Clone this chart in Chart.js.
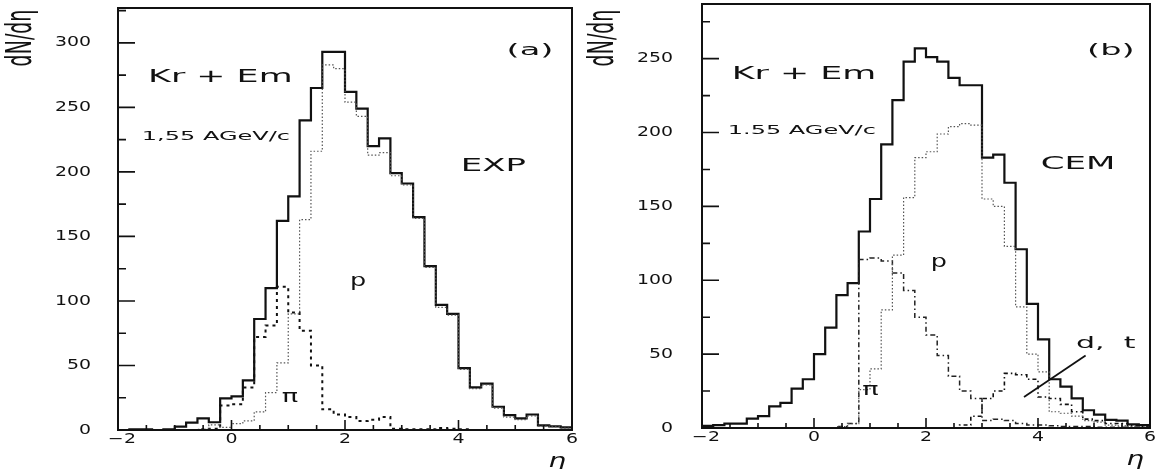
<!DOCTYPE html>
<html>
<head>
<meta charset="utf-8">
<script src="https://cdn.jsdelivr.net/npm/chart.js@4.4.1/dist/chart.umd.min.js"></script>
<style>
  html, body { margin: 0; padding: 0; background: #fff; }
  #wrap { position: relative; width: 1159px; height: 469px; overflow: hidden; }
  .panel { position: absolute; top: 0; height: 469px; }
</style>
</head>
<body>
<div id="wrap">
  <div class="panel" style="left:0; width:580px;"><canvas id="panel-a"></canvas></div>
  <div class="panel" style="left:580px; width:579px;"><canvas id="panel-b"></canvas></div>
</div>
<script>
// Kr+Em 1.55 AGeV/c — dN/dη, experiment (a) vs CEM (b).
// Bins of 0.2 in η; each value is the content of the bin starting at etaBins[i].

const etaBins = [-2.0, -1.8, -1.6, -1.4, -1.2, -1.0, -0.8, -0.6, -0.4, -0.2,
                 0.0, 0.2, 0.4, 0.6, 0.8, 1.0, 1.2, 1.4, 1.6, 1.8,
                 2.0, 2.2, 2.4, 2.6, 2.8, 3.0, 3.2, 3.4, 3.6, 3.8,
                 4.0, 4.2, 4.4, 4.6, 4.8, 5.0, 5.2, 5.4, 5.6, 5.8];
const etaEnd = 6.0;

// (a) EXP
const expTotal = [0, 0.5, 0.5, 0, 0.5, 2.6, 5.7, 9, 6, 24.5,
                  26, 38.5, 86, 110, 162, 181, 240, 265, 293, 293,
                  262, 249, 220, 226, 199, 191, 165, 127, 97, 90,
                  48, 33, 36, 18, 11.5, 9, 12, 3.6, 2.8, 2];
const expProton = [0, 0, 0, 0, 0, 0, 0, 0.5, 4, 2,
                   5, 7, 14, 29, 52, 90, 163, 216, 283, 280,
                   254, 243, 213, 215, 197, 190, 164, 126, 95, 89,
                   47, 32, 35, 17, 10, 8, 11, 3, 2.5, 1.5];
const expPion = [0, 0, 0, 0, 0, 0, 0, 0.5, 1, 19,
                 20, 33, 72, 81, 111, 91, 77, 50, 16, 12,
                 10, 7, 8, 10, 1, 0.5, 0.5, 0.5, 1.5, 1,
                 0.5, 0, 0, 0, 0, 0, 0, 0, 0, 0];

// (b) CEM
const cemTotal = [1.5, 2, 3, 3, 6.3, 8, 14.7, 17, 26.6, 33,
                  50, 68, 90, 98, 133, 155, 192, 222, 248, 257,
                  251, 248, 237, 232, 232, 183, 185, 166, 121, 84,
                  60, 33, 28, 20, 12, 9, 5.5, 5, 2.5, 2];
const cemProton = [0, 0, 0, 0, 0, 0, 0, 0, 0, 0,
                   0, 0, 1, 3, 26, 40, 80, 117, 156, 183,
                   187, 199, 204, 206, 205, 155, 150, 123, 82, 50,
                   38, 11, 10, 8, 5, 4, 2, 1.5, 1, 0.5];
const cemPion = [0, 0, 0, 0, 0, 0, 0, 0, 0, 0,
                 0, 0, 1, 3, 114, 115, 113, 105, 93, 75,
                 63, 49, 35, 25, 20, 5, 6, 5, 3, 2,
                 2, 1.5, 1, 1, 1, 0.5, 0.5, 0.5, 0.5, 0.5];
const cemDeutTrit = [0, 0, 0, 0, 0, 0, 0, 0, 0, 0,
                     0, 0, 0, 0, 0, 0, 0, 0, 0, 0,
                     0, 0, 0, 2, 8, 20, 25, 37, 36, 33,
                     21, 20, 16, 11, 6, 5, 3, 3, 1.5, 1];

const xTickLabels = [-2, 0, 2, 4, 6];

// text placed in data coordinates (η, dN/dη)
const expNotes = [
  { text: "(a)", x: 5.26, y: 294, size: 16, sx: 2.1, align: "center" },
  { text: "Kr + Em", x: -1.47, y: 273, size: 17, sx: 2.05, align: "left" },
  { text: "1,55 AGeV/c", x: -1.58, y: 227, size: 12, sx: 2.0, align: "left" },
  { text: "EXP", x: 4.04, y: 204, size: 17, sx: 2.0, align: "left" },
  { text: "p", x: 2.23, y: 115, size: 17, sx: 1.5, align: "center" },
  { text: "π", x: 1.03, y: 25, size: 17, sx: 1.6, align: "center" },
];
const cemNotes = [
  { text: "(b)", x: 5.30, y: 255, size: 16, sx: 2.1, align: "center" },
  { text: "Kr + Em", x: -1.47, y: 239, size: 17, sx: 2.05, align: "left" },
  { text: "1.55 AGeV/c", x: -1.54, y: 201, size: 12, sx: 2.0, align: "left" },
  { text: "CEM", x: 4.05, y: 178, size: 17, sx: 2.0, align: "left" },
  { text: "p", x: 2.23, y: 112, size: 17, sx: 1.5, align: "center" },
  { text: "π", x: 1.01, y: 25, size: 17, sx: 1.6, align: "center" },
  { text: "d,  t", x: 4.68, y: 57, size: 15, sx: 2.0, align: "left" },
];
const cemPointer = [{ x: 3.75, y: 21 }, { x: 4.85, y: 49 }];

const INK = "#111";
const FONT = "'DejaVu Sans', 'Liberation Sans', sans-serif";

function steps(values) {
  const pts = etaBins.map((x, i) => ({ x, y: values[i] }));
  pts.push({ x: etaEnd, y: values[values.length - 1] });
  return pts;
}

function hist(values, style) {
  return Object.assign({
    data: steps(values),
    stepped: "before",
    fill: false,
    pointRadius: 0,
    borderColor: INK,
    borderWidth: 2.2,
    borderDash: [],
  }, style);
}

// text stretched horizontally like the plotter lettering
function drawText(ctx, n, px, py) {
  ctx.save();
  ctx.font = n.size + "px " + FONT;
  ctx.fillStyle = INK;
  ctx.textBaseline = "middle";
  const w = ctx.measureText(n.text).width * n.sx;
  let left = px;
  if (n.align === "center") left = px - w / 2;
  if (n.align === "right") left = px - w;
  ctx.translate(left, py);
  ctx.scale(n.sx, 1);
  ctx.textAlign = "left";
  ctx.fillText(n.text, 0, 0);
  ctx.restore();
}

function fmtEta(v) {
  return v < 0 ? "\u2212" + Math.abs(v) : String(v);
}

const framePlugin = {
  id: "frame",
  afterDraw(chart, args, opts) {
    const ctx = chart.ctx;
    const { left, right, top, bottom } = chart.chartArea;
    const xs = chart.scales.x, ys = chart.scales.y;
    ctx.save();
    ctx.strokeStyle = INK;
    ctx.lineWidth = 2;
    ctx.strokeRect(left, top, right - left, bottom - top);

    // inward tick marks
    ctx.lineWidth = 1.6;
    ctx.beginPath();
    for (let v = 0; v <= ys.max; v += 25) {
      const y = ys.getPixelForValue(v);
      const len = v % 50 === 0 ? 17 : 8;
      ctx.moveTo(left, y);
      ctx.lineTo(left + len, y);
    }
    for (let k = 0; k <= 16; k++) {
      const x = xs.getPixelForValue(-2 + k * 0.5);
      const len = k % 4 === 0 ? 10 : 5;
      ctx.moveTo(x, bottom);
      ctx.lineTo(x, bottom - len);
    }
    ctx.stroke();

    // tick labels from the library's own ticks
    ys.ticks.forEach((t) => drawText(ctx, { text: String(t.value), size: 14, sx: 1.35, align: "right" },
      left - opts.yLabelGap, ys.getPixelForValue(t.value)));
    xs.ticks.forEach((t) => drawText(ctx, { text: fmtEta(t.value), size: 14, sx: 1.35, align: "center" },
      xs.getPixelForValue(t.value) + (t.value < 0 ? 4 : 0), bottom + 9));

    // y title, rotated
    ctx.save();
    ctx.fillStyle = INK;
    ctx.font = "19px " + FONT;
    ctx.translate(opts.titleX, 38);
    ctx.scale(1.9, 1);
    ctx.rotate(-Math.PI / 2);
    ctx.textAlign = "center";
    ctx.textBaseline = "middle";
    ctx.fillText("dN/dη", 0, 0);
    ctx.restore();

    // x title
    ctx.save();
    ctx.fillStyle = INK;
    ctx.font = "italic 20px " + FONT;
    ctx.translate(right - 15, bottom + 32);
    ctx.scale(1.4, 1);
    ctx.textAlign = "center";
    ctx.textBaseline = "middle";
    ctx.fillText("η", 0, 0);
    ctx.restore();

    opts.notes.forEach((n) => drawText(ctx, n, xs.getPixelForValue(n.x), ys.getPixelForValue(n.y)));

    if (opts.pointer) {
      ctx.lineWidth = 1.8;
      ctx.beginPath();
      ctx.moveTo(xs.getPixelForValue(opts.pointer[0].x), ys.getPixelForValue(opts.pointer[0].y));
      ctx.lineTo(xs.getPixelForValue(opts.pointer[1].x), ys.getPixelForValue(opts.pointer[1].y));
      ctx.stroke();
    }
    ctx.restore();
  },
};

function makePanel(canvasId, p) {
  return new Chart(document.getElementById(canvasId), {
    type: "line",
    data: { datasets: p.datasets },
    plugins: [framePlugin],
    options: {
      animation: false,
      responsive: true,
      maintainAspectRatio: false,
      devicePixelRatio: 1,
      layout: { padding: { left: 0, right: p.padRight, top: p.padTop, bottom: 0 } },
      plugins: {
        legend: { display: false },
        tooltip: { enabled: false },
        frame: { notes: p.notes, pointer: p.pointer, titleX: p.titleX, yLabelGap: p.yLabelGap },
      },
      scales: {
        x: {
          type: "linear",
          min: -2,
          max: 6,
          grid: { display: false, drawTicks: false },
          border: { display: false },
          ticks: { display: false },
          afterBuildTicks: (s) => { s.ticks = xTickLabels.map((v) => ({ value: v })); },
          afterFit: (s) => { s.height = p.xAxisHeight; s.paddingLeft = 0; s.paddingRight = 0; },
        },
        y: {
          min: 0,
          max: p.yMax,
          grid: { display: false, drawTicks: false },
          border: { display: false },
          ticks: { display: false, stepSize: 50 },
          afterBuildTicks: (s) => { s.ticks = s.ticks.filter((t) => t.value % 50 === 0); },
          afterFit: (s) => { s.width = p.yAxisWidth; s.paddingTop = 0; s.paddingBottom = 0; },
        },
      },
    },
  });
}

makePanel("panel-a", {
  yMax: 327,
  yAxisWidth: 118,
  padRight: 8,
  padTop: 8,
  xAxisHeight: 39,
  yLabelGap: 27,
  titleX: 22,
  notes: expNotes,
  datasets: [
    hist(expProton, { borderColor: "#555", borderWidth: 1.2, borderDash: [1.5, 2] }),
    hist(expPion, { borderWidth: 2, borderDash: [3, 4] }),
    hist(expTotal, {}),
  ],
});

makePanel("panel-b", {
  yMax: 287,
  yAxisWidth: 122,
  padRight: 9,
  padTop: 4,
  xAxisHeight: 41,
  yLabelGap: 29,
  titleX: 24,
  notes: cemNotes,
  pointer: cemPointer,
  datasets: [
    hist(cemProton, { borderColor: "#555", borderWidth: 1.2, borderDash: [1.5, 2] }),
    hist(cemPion, { borderColor: "#222", borderWidth: 1.5, borderDash: [5, 3, 1.5, 3] }),
    hist(cemDeutTrit, { borderWidth: 1.6, borderDash: [4, 3, 1.5, 3] }),
    hist(cemTotal, {}),
  ],
});
</script>
</body>
</html>
